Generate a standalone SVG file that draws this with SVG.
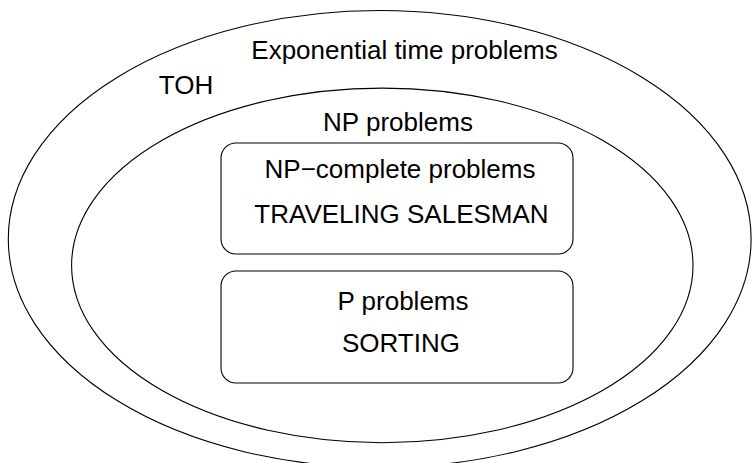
<svg xmlns="http://www.w3.org/2000/svg" width="752" height="463" viewBox="0 0 752 463">
<style>
.shape{fill:none;stroke:#000;stroke-width:1.1}
text{font-family:"Liberation Sans",Arial,sans-serif;font-size:26px;fill:#000;text-anchor:middle}
</style>
<rect width="752" height="463" fill="#fff"/>
<g id="exp">
<ellipse class="shape" cx="379.7" cy="239" rx="371.4" ry="228.5"/>
<text x="404.5" y="59">Exponential time problems</text>
<text x="186" y="94">TOH</text>
</g>
<g id="np">
<ellipse class="shape" cx="382.3" cy="265.4" rx="310.7" ry="177.3"/>
<text x="398" y="131">NP problems</text>
</g>
<g id="npc">
<rect class="shape" x="221" y="143" width="352" height="111" rx="15" ry="15"/>
<text x="400" y="178">NP−complete problems</text>
<text x="401.5" y="223">TRAVELING SALESMAN</text>
</g>
<g id="p">
<rect class="shape" x="221" y="271" width="352" height="112" rx="15" ry="15"/>
<text x="403" y="310">P problems</text>
<text x="401" y="352">SORTING</text>
</g>
<g id="connectors"/>
</svg>
